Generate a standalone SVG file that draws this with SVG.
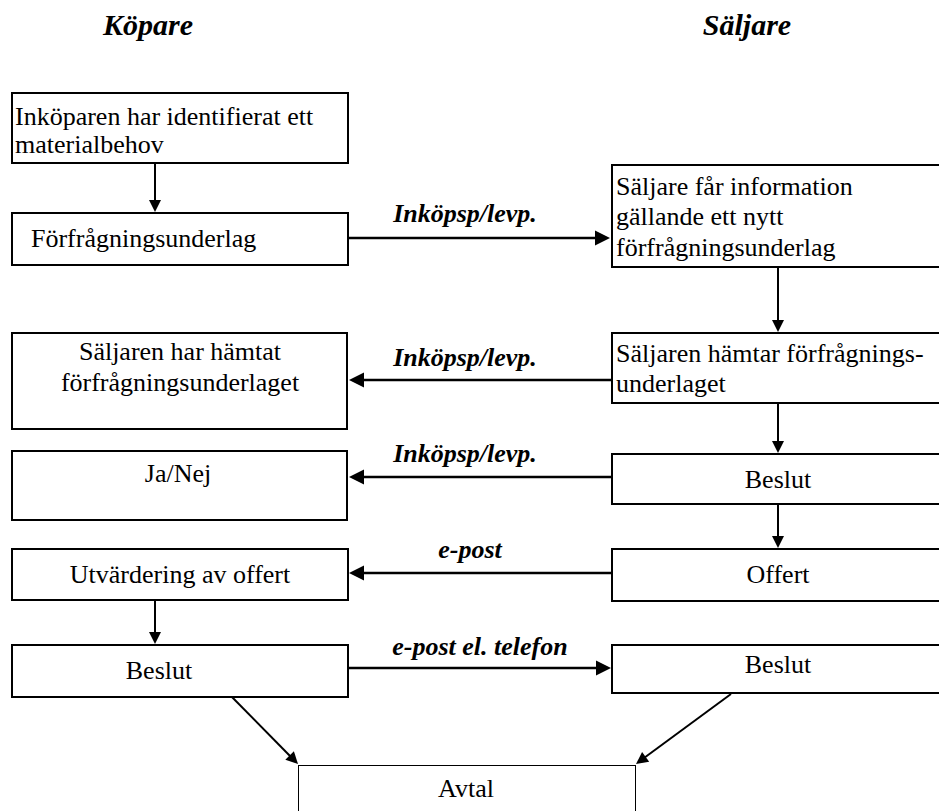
<svg xmlns="http://www.w3.org/2000/svg" width="939" height="811" viewBox="0 0 939 811">
  <rect width="939" height="811" fill="#fff"/>

  <!-- column headings -->
  <text x="148" y="35" font-family="Liberation Serif, serif" font-size="30" font-weight="bold" font-style="italic" text-anchor="middle">Köpare</text>
  <text x="747" y="35" font-family="Liberation Serif, serif" font-size="30" font-weight="bold" font-style="italic" text-anchor="middle">Säljare</text>

  <g id="connectors">
    <!-- shafts -->
    <g stroke="#000" stroke-width="2" fill="none">
      <line x1="155" y1="163" x2="155" y2="201"/>
      <line x1="778" y1="267" x2="778" y2="321"/>
      <line x1="778" y1="404" x2="778" y2="442"/>
      <line x1="778" y1="504" x2="778" y2="537"/>
      <line x1="155" y1="597" x2="155" y2="633"/>
      <line x1="228" y1="693" x2="291" y2="757"/>
      <line x1="731" y1="694" x2="644" y2="758"/>
    </g>
    <g stroke="#000" stroke-width="2.5" fill="none">
      <line x1="348" y1="238" x2="597" y2="238"/>
      <line x1="612" y1="380" x2="362" y2="380"/>
      <line x1="612" y1="477" x2="362" y2="477"/>
      <line x1="612" y1="573" x2="362" y2="573"/>
      <line x1="348" y1="668" x2="598" y2="668"/>
    </g>
    <!-- arrowheads -->
    <g fill="#000">
      <polygon points="149,200 161,200 155,212"/>
      <polygon points="595,230.5 595,245.5 610,238"/>
      <polygon points="772,320 784,320 778,332"/>
      <polygon points="364,372.5 364,387.5 349,380"/>
      <polygon points="772,441 784,441 778,453"/>
      <polygon points="364,469.5 364,484.5 349,477"/>
      <polygon points="772,536 784,536 778,548"/>
      <polygon points="364,565.5 364,580.5 349,573"/>
      <polygon points="149,632 161,632 155,644"/>
      <polygon points="596,660.5 596,675.5 611,668"/>
      <polygon points="285.3,759.7 293.9,751.3 298,764"/>
      <polygon points="642.1,752 649.2,761.7 636,764"/>
    </g>
    <g font-family="Liberation Serif, serif" font-size="26" font-weight="bold" font-style="italic" text-anchor="middle">
      <text x="465" y="222">Inköpsp/levp.</text>
      <text x="465" y="366">Inköpsp/levp.</text>
      <text x="465" y="462">Inköpsp/levp.</text>
      <text x="470" y="558">e-post</text>
      <text x="480" y="655">e-post el. telefon</text>
    </g>
  </g>

  <g font-family="Liberation Serif, serif" font-size="26">
    <g id="node-behov">
      <rect x="12" y="93" width="336" height="70" fill="#fff" stroke="#000" stroke-width="2"/>
      <text x="15" y="125">Inköparen har identifierat ett</text>
      <text x="15" y="153">materialbehov</text>
    </g>
    <g id="node-forfragning">
      <rect x="12" y="213" width="336" height="52" fill="#fff" stroke="#000" stroke-width="2"/>
      <text x="31" y="247">Förfrågningsunderlag</text>
    </g>
    <g id="node-info">
      <rect x="612" y="165" width="340" height="102" fill="#fff" stroke="#000" stroke-width="2"/>
      <text x="616" y="195">Säljare får information</text>
      <text x="616" y="225">gällande ett nytt</text>
      <text x="616" y="256">förfrågningsunderlag</text>
    </g>
    <g id="node-hamtat">
      <rect x="12" y="333" width="335" height="96" fill="#fff" stroke="#000" stroke-width="2"/>
      <text x="180" y="360" text-anchor="middle">Säljaren har hämtat</text>
      <text x="180" y="391" text-anchor="middle">förfrågningsunderlaget</text>
    </g>
    <g id="node-hamtar">
      <rect x="612" y="333" width="340" height="70" fill="#fff" stroke="#000" stroke-width="2"/>
      <text x="616" y="362">Säljaren hämtar förfrågnings-</text>
      <text x="616" y="392">underlaget</text>
    </g>
    <g id="node-janej">
      <rect x="12" y="451" width="335" height="69" fill="#fff" stroke="#000" stroke-width="2"/>
      <text x="178" y="482" text-anchor="middle">Ja/Nej</text>
    </g>
    <g id="node-beslut-s1">
      <rect x="612" y="454" width="340" height="50" fill="#fff" stroke="#000" stroke-width="2"/>
      <text x="778" y="488" text-anchor="middle">Beslut</text>
    </g>
    <g id="node-utvardering">
      <rect x="12" y="549" width="336" height="51" fill="#fff" stroke="#000" stroke-width="2"/>
      <text x="180" y="583" text-anchor="middle">Utvärdering av offert</text>
    </g>
    <g id="node-offert">
      <rect x="612" y="549" width="340" height="52" fill="#fff" stroke="#000" stroke-width="2"/>
      <text x="778" y="583" text-anchor="middle">Offert</text>
    </g>
    <g id="node-beslut-k">
      <rect x="12" y="645" width="336" height="52" fill="#fff" stroke="#000" stroke-width="2"/>
      <text x="159" y="679" text-anchor="middle">Beslut</text>
    </g>
    <g id="node-beslut-s2">
      <rect x="612" y="645" width="340" height="48" fill="#fff" stroke="#000" stroke-width="2"/>
      <text x="778" y="673" text-anchor="middle">Beslut</text>
    </g>
    <g id="node-avtal">
      <rect x="298.5" y="765.5" width="337" height="60" fill="#fff" stroke="#000" stroke-width="1"/>
      <text x="466" y="797" text-anchor="middle">Avtal</text>
    </g>
  </g>
</svg>
